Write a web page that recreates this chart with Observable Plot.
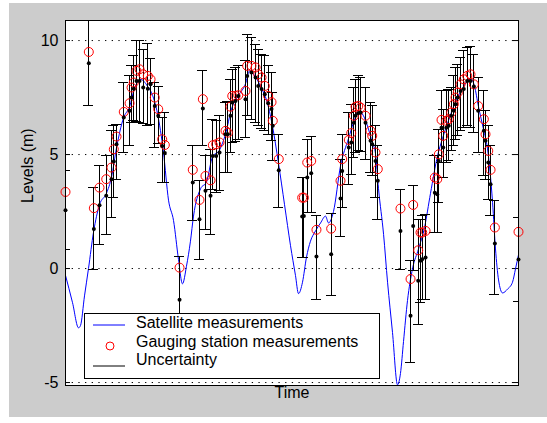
<!DOCTYPE html>
<html>
<head>
<meta charset="utf-8">
<script src="https://cdn.jsdelivr.net/npm/d3@7"></script>
<script src="https://cdn.jsdelivr.net/npm/@observablehq/plot@0.6"></script>
<style>
  body { margin: 0; background: #ffffff; font-family: "Liberation Sans", Arial, sans-serif; }
  #wrap { position: relative; width: 547px; height: 423px; overflow: hidden; }
  #bg { position: absolute; left: 9px; top: 3px; width: 538px; height: 414px; background: #cccccc; }
  #chart { position: absolute; left: 0; top: 0; }
  #legend { position: absolute; left: 84px; top: 313px; }
</style>
</head>
<body>
<div id="wrap">
  <div id="bg"></div>
  <div id="chart"></div>
  <svg id="legend" width="298" height="68">
    <rect x="0.5" y="0.5" width="295" height="65" fill="#ffffff" stroke="#000000" stroke-width="1"></rect>
    <line x1="9" x2="41" y1="12" y2="12" stroke="#0000ff" stroke-width="1"></line>
    <circle cx="26" cy="33" r="4" fill="none" stroke="#ff0000" stroke-width="1"></circle>
    <line x1="9" x2="41" y1="53" y2="53" stroke="#000000" stroke-width="1"></line>
    <text x="52" y="15.3" font-size="16" font-family="Liberation Sans, Arial, sans-serif" fill="#000">Satellite measurements</text>
    <text x="52" y="33.7" font-size="16" font-family="Liberation Sans, Arial, sans-serif" fill="#000">Gauging station measurements</text>
    <text x="52" y="52" font-size="16" font-family="Liberation Sans, Arial, sans-serif" fill="#000">Uncertainty</text>
  </svg>
</div>
<script>
// ---- Data (time in years from start of record, levels in m) ----
const satTime = [0, 0.222, 0.270, 0.324, 0.388, 0.438, 0.460, 0.486, 0.555, 0.610, 0.629, 0.650, 0.676, 0.705, 0.740, 0.784, 0.810, 0.850, 0.883, 0.921, 0.946,
  1.086, 1.212, 1.276, 1.308, 1.333, 1.381, 1.403, 1.435, 1.467, 1.524, 1.546, 1.571, 1.588, 1.619, 1.645, 1.714, 1.730, 1.771, 1.810, 1.835, 1.867, 1.898, 1.930, 1.962, 1.974, 2.031,
  2.254, 2.270, 2.302, 2.340, 2.390, 2.530, 2.619, 2.635, 2.698, 2.721, 2.746, 2.762, 2.788, 2.810, 2.857, 2.905, 2.921, 2.952, 2.974,
  3.190, 3.286, 3.311, 3.359, 3.381, 3.397, 3.429, 3.517, 3.540, 3.555, 3.581, 3.597, 3.626, 3.650, 3.673, 3.698, 3.714, 3.736, 3.762, 3.793, 3.826, 3.857, 3.889, 3.930, 3.984, 4.000, 4.026, 4.048, 4.089, 4.314];
const satLevel = [2.56, 9.0, 1.73, 2.78, 3.19, 3.92, 4.69, 5.45, 6.62, 6.92, 7.5, 7.89, 8.23, 8.23, 7.94, 7.89, 8.08, 7.13, 6.7, 5.38, 5.07,
  -1.37, 3.77, 2.16, 7.02, 3.41, 3.19, 4.94, 4.94, 5.09, 5.89, 5.89, 6.7, 7.28, 7.35, 7.57, 7.43, 8.45, 8.6, 8.38, 8.01, 7.87, 7.65, 7.25, 7.0, 6.26, 4.31,
  2.28, 2.31, 3.99, 4.18, 0.53, 0.63, 3.07, 4.28, 5.31, 5.53, 6.4, 6.7, 6.81, 6.84, 6.4, 5.6, 5.45, 4.72, 3.85,
  1.65, -2.07, 1.87, -0.54, 0.34, 0.41, 0.48, 3.33, 3.26, 4.72, 6.18, 5.31, 6.18, 6.26, 6.7, 6.92, 7.21, 7.5, 7.79, 7.87, 8.23, 8.23, 7.98, 6.92, 6.04, 5.6, 4.65, 3.7, 1.1, 0.4];
const gaugeLevel = [3.36, 9.5, 2.65, 3.55, 3.92, 4.43, 5.23, 5.79, 6.87, 7.25, 7.94, 8.16, 8.67, 8.74, 8.52, 8.45, 8.3, 7.5, 6.99, 5.67, 5.42,
  0.04, 4.33, 3.01, 7.43, 4.06, 3.87, 5.41, 5.45, 5.53, 6.04, 5.96, 7.1, 7.57, 7.57, 7.6, 7.79, 8.89, 8.89, 8.82, 8.52, 8.38, 8.01, 7.57, 7.3, 6.48, 4.8,
  3.11, 3.11, 4.65, 4.72, 1.7, 1.75, 3.85, 4.8, 5.64, 5.94, 6.7, 7.1, 7.13, 7.06, 6.7, 6.04, 5.82, 5.09, 4.36,
  2.63, -0.46, 2.79, 0.8, 1.58, 1.58, 1.65, 3.99, 3.92, 5.01, 6.52, 5.82, 6.48, 6.55, 6.84, 7.21, 7.5, 7.72, 8.08, 8.3, 8.45, 8.52, 8.08, 7.13, 6.55, 5.89, 5.16, 4.33, 1.8, 1.61];
const uncLow = [0.85, 7.13, -0.06, 1.07, 1.5, 2.24, 3.11, 3.89, 5.09, 5.38, 6.4, 6.48, 6.43, 6.4, 6.37, 6.26, 6.3, 5.3, 5.5, 3.77, 3.76,
  -3.25, 2.09, 0.41, 5.41, 1.73, 1.5, 3.48, 3.33, 3.41, 4.21, 4.21, 5.09, 5.53, 5.56, 5.67, 5.75, 6.7, 6.55, 6.4, 6.26, 6.14, 6.04, 5.89, 5.6, 4.72, 2.68,
  0.48, 0.48, 2.46, 2.46, -1.35, -1.2, 1.4, 2.68, 3.7, 4.14, 4.87, 5.09, 5.16, 5.12, 4.8, 4.21, 4.06, 3.11, 2.16,
  -0.06, -4.12, -0.1, -2.44, -1.49, -1.35, -1.35, 1.58, 1.58, 2.89, 4.65, 3.99, 4.65, 4.72, 5.16, 5.38, 5.67, 5.82, 6.04, 6.18, 6.26, 6.18, 5.96, 5.09, 4.06, 3.92, 3.04, 2.31, -1.13, -1.46];
const uncHigh = [4.28, 10.95, 3.55, 4.5, 4.94, 6.04, 6.26, 6.33, 8.16, 8.45, 8.89, 9.33, 9.99, 9.99, 9.62, 9.88, 9.2, 8.16, 8.0, 6.62, 6.83,
  0.51, 5.38, 3.85, 8.7, 4.94, 5.23, 6.55, 6.48, 6.7, 7.28, 7.31, 8.3, 8.74, 8.82, 8.89, 9.11, 10.28, 10.13, 9.84, 9.62, 9.4, 9.33, 8.92, 8.6, 7.72, 5.89,
  3.99, 3.99, 5.67, 5.79, 2.31, 2.41, 4.8, 5.89, 6.84, 7.21, 7.94, 8.3, 8.45, 8.38, 7.94, 7.28, 7.16, 6.26, 5.38,
  3.45, 0.34, 3.63, 2.16, 2.16, 2.31, 2.38, 4.94, 4.94, 6.11, 7.79, 6.99, 7.79, 7.87, 7.94, 8.45, 8.82, 8.96, 9.25, 9.55, 9.69, 9.74, 9.4, 8.38, 7.79, 6.92, 6.26, 5.38, 2.97, 2.24];

// Satellite-derived continuous level curve
const lineTime = [0, 0.067, 0.124, 0.143, 0.181, 0.219, 0.267, 0.324, 0.390, 0.438, 0.486, 0.552, 0.610, 0.657, 0.714, 0.781, 0.829, 0.876, 0.933, 0.981, 1.029, 1.076, 1.114, 1.152, 1.190, 1.219,
  1.286, 1.343, 1.400, 1.467, 1.524, 1.581, 1.648, 1.714, 1.752, 1.810, 1.867, 1.914, 1.971, 2.029, 2.086, 2.143, 2.190, 2.219, 2.257, 2.295, 2.333, 2.381, 2.429, 2.476, 2.505, 2.552,
  2.619, 2.695, 2.743, 2.790, 2.838, 2.876, 2.924, 2.952, 2.981, 3.029, 3.067, 3.114, 3.162, 3.190, 3.219, 3.257, 3.305, 3.362, 3.419, 3.476, 3.543, 3.590, 3.648, 3.714, 3.781,
  3.857, 3.895, 3.933, 3.981, 4.019, 4.067, 4.095, 4.124, 4.162, 4.210, 4.257, 4.286, 4.314];
const lineLevel = [-0.3, -1.5, -2.6, -2.5, -1.2, 0.0, 1.6, 2.8, 3.3, 4.0, 5.3, 6.6, 7.1, 7.9, 8.3, 8.0, 7.6, 6.8, 5.1, 3.0, 2.1, 0.4, -0.67, 0.1, 1.2, 2.3,
  3.5, 3.8, 4.9, 5.2, 5.9, 7.0, 7.6, 8.1, 8.67, 8.4, 7.9, 7.4, 6.25, 4.6, 2.8, 1.0, -0.3, -1.1, -0.6, 0.5, 1.2, 1.65, 2.0, 2.3, 2.0, 2.5,
  4.5, 5.7, 6.4, 6.9, 6.7, 6.25, 5.5, 5.05, 3.5, 1.5, -0.6, -2.8, -5.1, -4.6, -3.2, -1.4, 0.0, 0.86, 1.8, 3.3, 4.95, 5.7, 6.5, 7.3, 7.9,
  8.35, 8.0, 7.1, 6.1, 5.25, 2.9, 0.86, -0.5, -1.07, -0.9, -0.6, 0.0, 0.6];

const yTicks = [-5, 0, 5, 10];
const xDomain = [0, 4.314];
const yDomain = [-5.13, 10.88];

// ---- Build tables ----
const points = satTime.map((t, i) => ({t, sat: satLevel[i], gauge: gaugeLevel[i], lo: uncLow[i], hi: uncHigh[i]}));
const curve = lineTime.map((t, i) => ({t, v: lineLevel[i]}));

const pxPerUnit = (518 - 65) / (xDomain[1] - xDomain[0]);
const cap = 5 / pxPerUnit;     // half-width of error bar caps
const tickLen = 5 / pxPerUnit; // inward tick length

const chart = Plot.plot({
  width: 547,
  height: 423,
  marginLeft: 65,
  marginRight: 29,
  marginTop: 20,
  marginBottom: 38,
  style: {background: "transparent", fontFamily: "Liberation Sans, Arial, sans-serif", fontSize: "16px", color: "#000"},
  x: {domain: xDomain, axis: null},
  y: {domain: yDomain, axis: null},
  marks: [
    Plot.frame({fill: "#ffffff"}),
    Plot.ruleY(yTicks, {y: d => d, stroke: "#000", strokeWidth: 1, strokeDasharray: "1.3,5.37"}),
    Plot.ruleY(yTicks, {y: d => d, x1: xDomain[0], x2: xDomain[0] + tickLen, stroke: "#000"}),
    Plot.ruleY(yTicks, {y: d => d, x1: xDomain[1] - tickLen, x2: xDomain[1], stroke: "#000"}),
    Plot.line(curve, {x: "t", y: "v", stroke: "#0000ff", strokeWidth: 1, curve: "monotone-x", clip: true}),
    Plot.ruleX(points, {x: "t", y1: "lo", y2: "hi", stroke: "#000", strokeWidth: 1, shapeRendering: "crispEdges", clip: true}),
    Plot.ruleY(points, {y: "lo", x1: d => d.t - cap, x2: d => d.t + cap, stroke: "#000", strokeWidth: 1, shapeRendering: "crispEdges", clip: true}),
    Plot.ruleY(points, {y: "hi", x1: d => d.t - cap, x2: d => d.t + cap, stroke: "#000", strokeWidth: 1, shapeRendering: "crispEdges", clip: true}),
    Plot.dot(points, {x: "t", y: "gauge", r: 4.5, stroke: "#ff0000", strokeWidth: 1, fill: "none"}),
    Plot.dot(points, {x: "t", y: "sat", r: 2, fill: "#000", stroke: "none"}),
    Plot.frame({stroke: "#000", strokeWidth: 1}),
    Plot.axisY({ticks: yTicks, tickSize: 0, tickPadding: 7, tickFormat: d => String(d), fontSize: 16, label: null}),
    Plot.text(["Levels (m)"], {frameAnchor: "left", dx: -38, rotate: -90, fontSize: 16, fill: "#000"}),
    Plot.text(["Time"], {frameAnchor: "bottom", dy: 12.5, fontSize: 16, fill: "#000"})
  ]
});
document.getElementById("chart").appendChild(chart);
</script>
</body>
</html>
